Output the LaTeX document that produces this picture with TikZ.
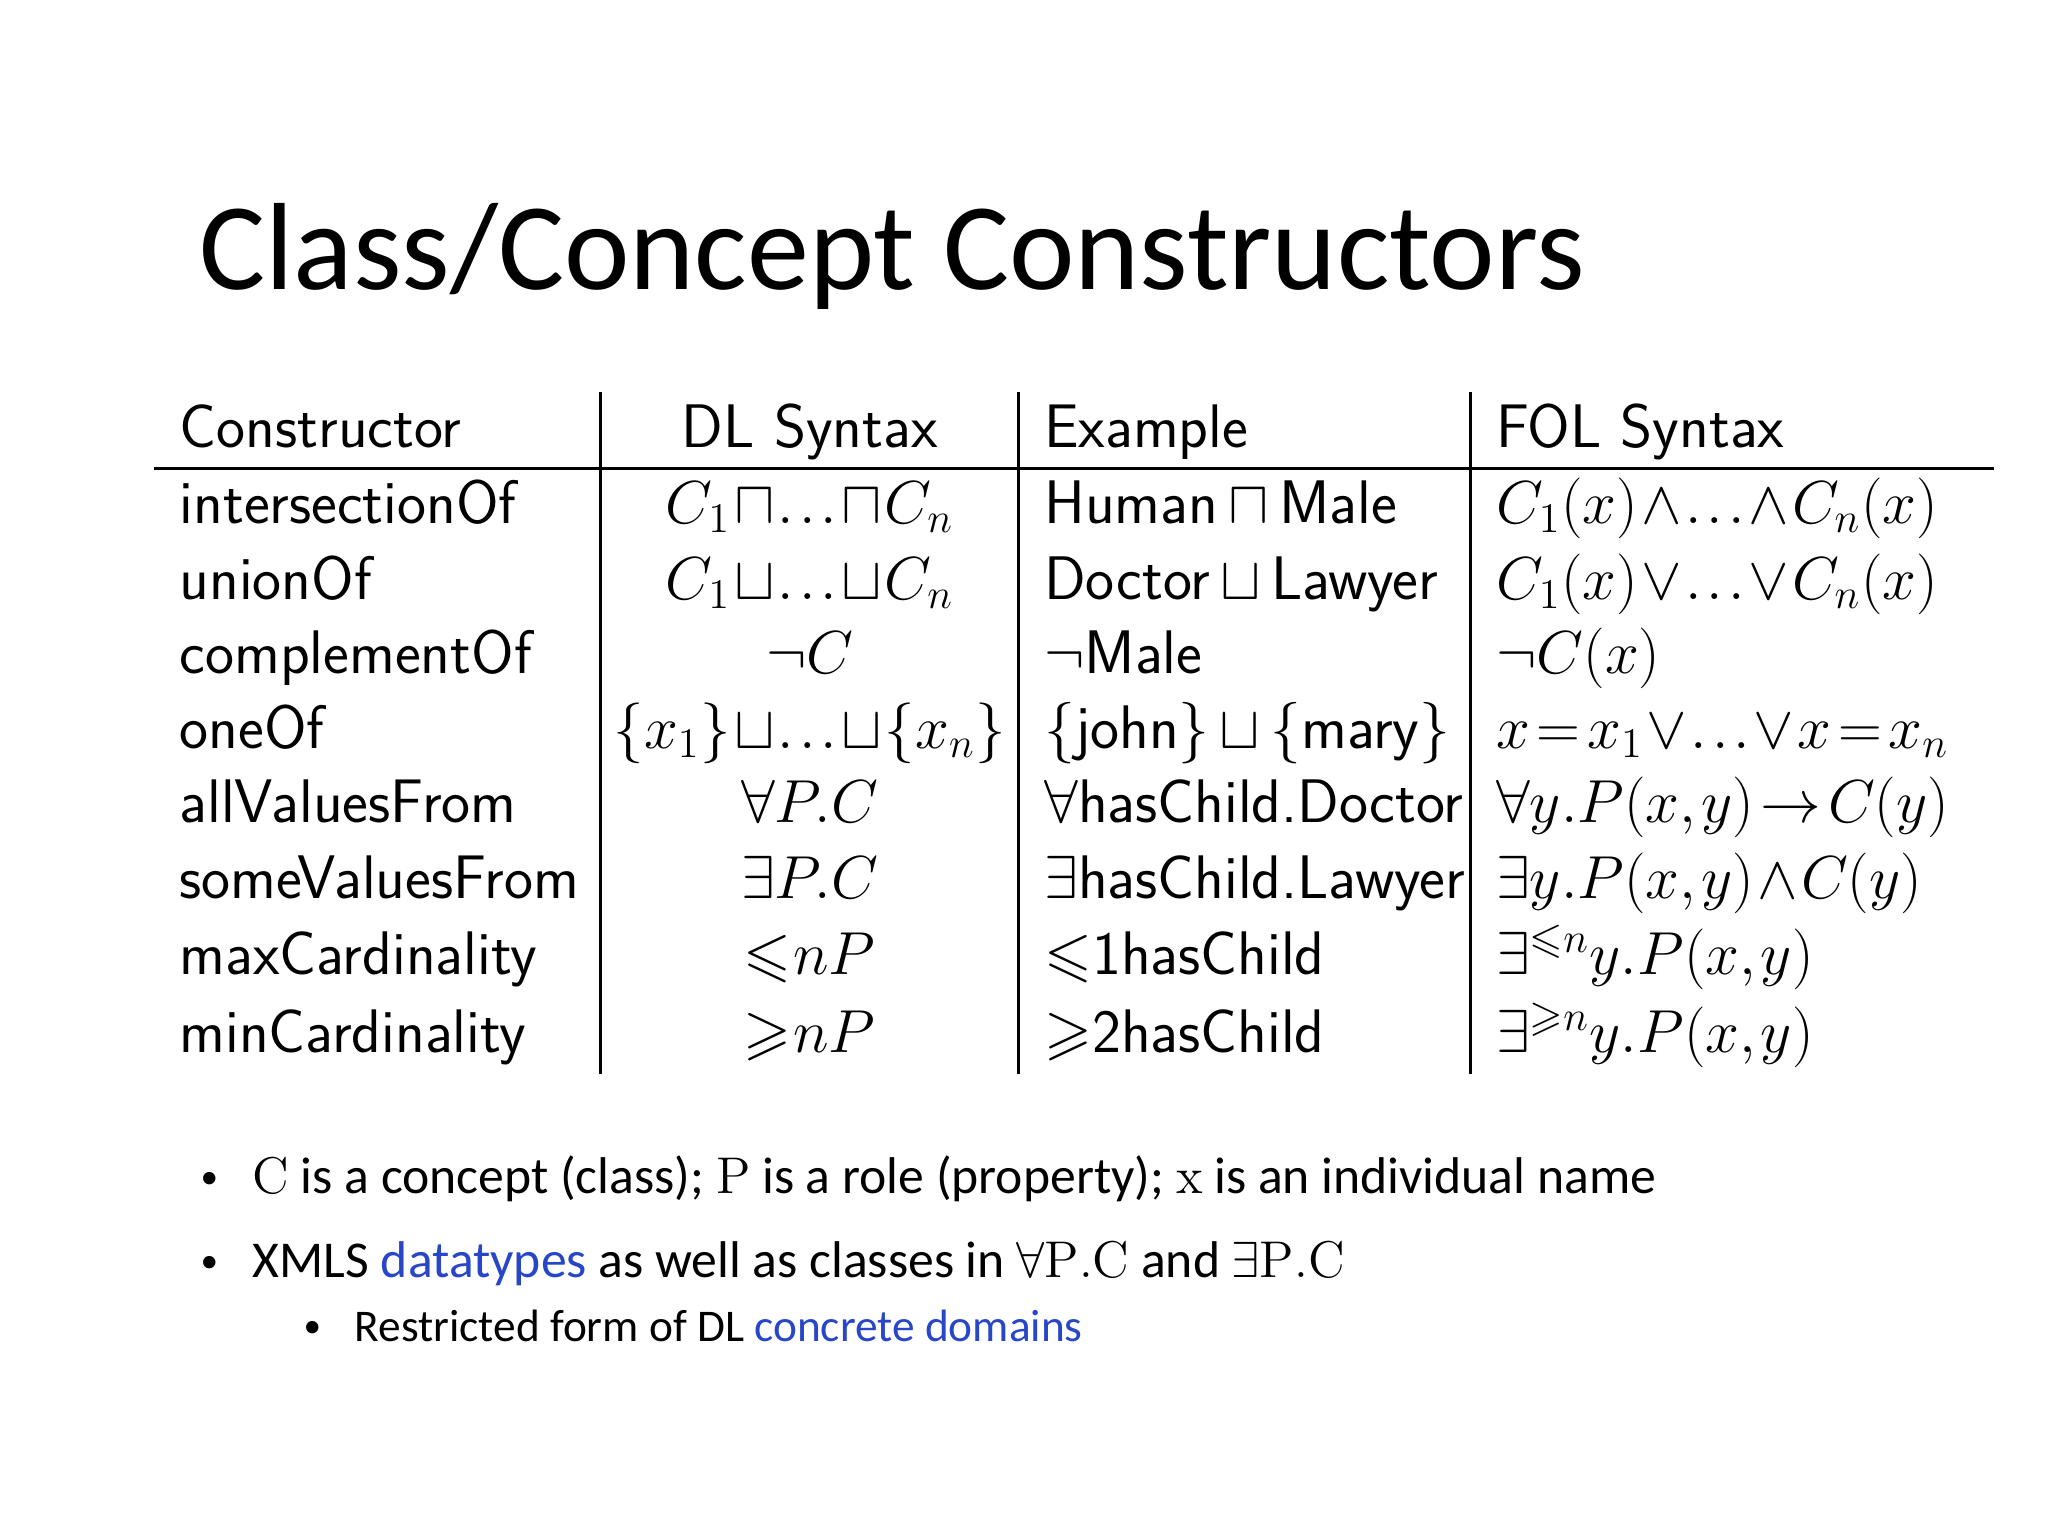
\documentclass[tikz,border=0pt]{standalone}
\usepackage{amsmath,amssymb}
\usepackage{fontspec}
\newfontfamily\calib{Carlito}
\definecolor{linkblue}{RGB}{40,70,200}
\newcommand{\tightmath}{\thinmuskip=1.5mu\medmuskip=1mu\thickmuskip=2mu}
\begin{document}
\begin{tikzpicture}[x=0.013061cm,y=-0.013061cm,
  cell/.style={inner sep=0pt,font=\fontsize{17.5}{20}\sffamily\tightmath},
  ctr/.style={cell,anchor=base},
  lft/.style={cell,anchor=base west},
  rule/.style={line width=0.8pt},
  btxt/.style={inner sep=0pt,anchor=base west,font=\fontsize{14.7}{18}\calib},
  stxt/.style={inner sep=0pt,anchor=base west,font=\fontsize{12.9}{16}\calib},
  dot/.style={inner sep=0pt,anchor=base west,font=\fontsize{10}{12}\calib}]
\useasboundingbox (0,0) rectangle (1568,1176);
\node[inner sep=0pt,anchor=base west,font=\fontsize{35.3}{40}\calib] (title) at (152,222) {Class/Concept Constructors};
\draw[rule] (118,359) -- (1527,359);
\draw[rule] (460,300) -- (460,822);
\draw[rule] (780,300) -- (780,822);
\draw[rule] (1126,300) -- (1126,822);
% header
\node[lft] (h1) at (137,343) {Constructor};
\node[ctr] (h2) at (620,343) {DL\ Syntax};
\node[lft] (h3) at (799,343) {Example};
\node[lft] (h4) at (1145,343) {FOL\ Syntax};
% rows
\node[lft] (a1) at (137,401) {intersectionOf};
\node[ctr] (a2) at (620,401) {$C_1\sqcap\ldots\sqcap C_n$};
\node[lft] (a3) at (799,401) {Human\,$\sqcap$\,Male};
\node[lft] (a4) at (1145,401) {$C_1(x)\wedge\ldots\wedge C_n(x)$};
\node[lft] (b1) at (137,459) {unionOf};
\node[ctr] (b2) at (620,459) {$C_1\sqcup\ldots\sqcup C_n$};
\node[lft] (b3) at (799,459) {Doctor\,$\sqcup$\,Lawyer};
\node[lft] (b4) at (1145,459) {$C_1(x)\vee\ldots\vee C_n(x)$};
\node[lft] (c1) at (137,516) {complementOf};
\node[ctr] (c2) at (620,516) {$\neg C$};
\node[lft] (c3) at (799,516) {$\neg$Male};
\node[lft] (c4) at (1145,516) {$\neg C(x)$};
\node[lft] (d1) at (137,573) {oneOf};
\node[ctr] (d2) at (620,573) {$\{x_1\}\sqcup\ldots\sqcup\{x_n\}$};
\node[lft] (d3) at (799,573) {\{john\}\,$\sqcup$\,\{mary\}};
\node[lft] (d4) at (1145,573) {$x=x_1\vee\ldots\vee x=x_n$};
\node[lft] (e1) at (137,630) {allValuesFrom};
\node[ctr] (e2) at (620,630) {$\forall P.C$};
\node[lft] (e3) at (799,630) {$\forall$hasChild.Doctor};
\node[lft] (e4) at (1145,630) {$\forall y.P(x,y)\rightarrow C(y)$};
\node[lft] (f1) at (137,688) {someValuesFrom};
\node[ctr] (f2) at (620,688) {$\exists P.C$};
\node[lft] (f3) at (799,688) {$\exists$hasChild.Lawyer};
\node[lft] (f4) at (1145,688) {$\exists y.P(x,y)\wedge C(y)$};
\node[lft] (g1) at (137,746) {maxCardinality};
\node[ctr] (g2) at (620,746) {$\leqslant\! nP$};
\node[lft] (g3) at (799,746) {$\leqslant$1hasChild};
\node[lft] (g4) at (1145,746) {$\exists^{\leqslant n}y.P(x,y)$};
\node[lft] (k1) at (137,806) {minCardinality};
\node[ctr] (k2) at (620,806) {$\geqslant\! nP$};
\node[lft] (k3) at (799,806) {$\geqslant$2hasChild};
\node[lft] (k4) at (1145,806) {$\exists^{\geqslant n}y.P(x,y)$};
% bullets
\node[dot] (bul1) at (153,910) {•};
\node[btxt] (t1) at (193,914) {$\mathrm{C}$ is a concept (class); $\mathrm{P}$ is a role (property); $\mathrm{x}$ is an individual name};
\node[dot] (bul2) at (153,974) {•};
\node[btxt] (t2) at (193,978) {XMLS \textcolor{linkblue}{datatypes} as well as classes in $\forall\mathrm{P.C}$ and $\exists\mathrm{P.C}$};
\node[dot] (bul3) at (232,1024) {•};
\node[stxt] (t3) at (271,1027) {Restricted form of DL \textcolor{linkblue}{concrete domains}};
\end{tikzpicture}
\end{document}
